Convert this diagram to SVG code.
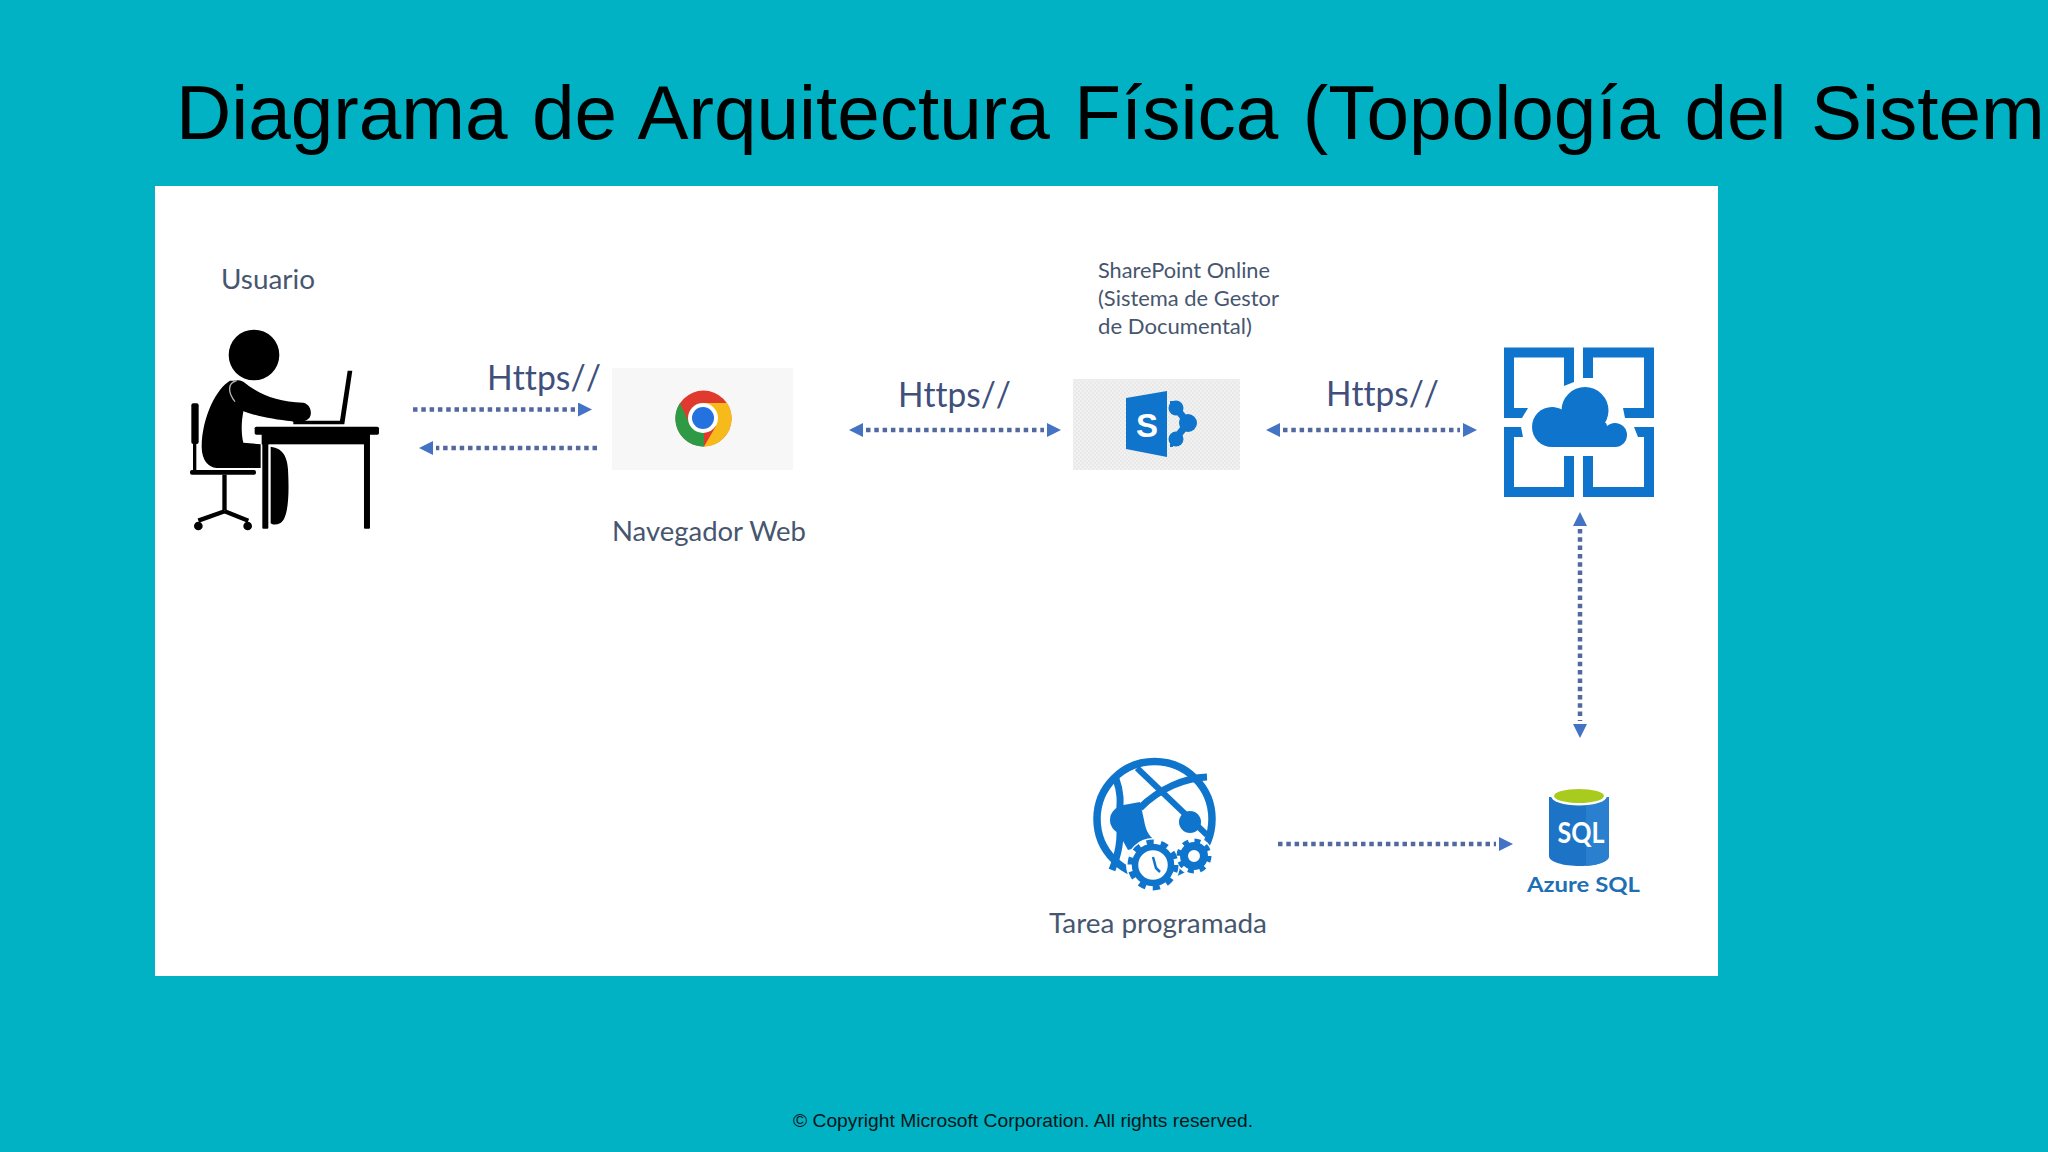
<svg xmlns="http://www.w3.org/2000/svg" width="2048" height="1152" viewBox="0 0 2048 1152">
<style>
.lb{font-family:"Lato","Liberation Sans",sans-serif;fill:#47566f}
.h{font-family:"Lato","Liberation Sans",sans-serif;font-size:34px;fill:#404f7c;font-variant-ligatures:none;font-kerning:none}
.c{fill:none;stroke:#52689f;stroke-width:4.500;stroke-dasharray:4.500 3.800}
.b{fill:#0f75cc}
.k{fill:#000}
</style>
<defs>
<marker id="ah" markerUnits="userSpaceOnUse" markerWidth="14" markerHeight="14" refX="-3" refY="7" orient="auto-start-reverse"><path d="M0,0 L14,7 L0,14 Z" fill="#4472c4"/></marker>
<pattern id="d" width="4" height="4" patternUnits="userSpaceOnUse"><rect width="4" height="4" fill="#f1f1f1"/><rect width="2" height="2" fill="#e9e9e9"/><rect x="2" y="2" width="2" height="2" fill="#e9e9e9"/></pattern>
</defs>
<rect width="2048" height="1152" fill="#00b2c3"/>
<text id="title" x="176" y="139" font-family="Liberation Sans,sans-serif" font-size="76.500" word-spacing="3.200" fill="#000">Diagrama de Arquitectura Física (Topología del Sistem</text>
<rect id="panel" x="155" y="186" width="1563" height="790" fill="#fff"/>

<g id="usuario">
<text class="lb" x="221" y="289" font-size="26" textLength="94" lengthAdjust="spacingAndGlyphs">Usuario</text>
<g transform="translate(180,310) scale(.3333)">
<ellipse class="k" cx="222" cy="135" rx="76" ry="76"/>
<path class="k" d="M150,212C110,235 66,320 65,410C65,450 85,472 110,474L242,474L242,403L190,398C183,370 184,335 190,305L170,212Z"/>
<path class="k" d="M148,235C148,212 170,205 190,215C240,255 290,275 370,278C392,283 398,310 388,324C375,337 350,340 335,334C270,328 190,310 165,290C152,270 148,250 148,235Z"/>
<path d="M165,275C145,250 140,220 170,212" fill="none" stroke="#b5b5b5" stroke-width="4"/>
<rect class="k" x="34" y="280" width="22" height="122" rx="6"/><rect class="k" x="39" y="400" width="10" height="85"/>
<rect class="k" x="30" y="480" width="198" height="14" rx="6"/><rect class="k" x="127" y="494" width="13" height="108"/>
<path d="M134,604L55,632M134,604L205,632" stroke="#000" stroke-width="13" fill="none"/>
<circle class="k" cx="55" cy="648" r="13"/><circle class="k" cx="203" cy="648" r="13"/>
<rect class="k" x="224" y="350" width="373" height="24" rx="5"/><rect class="k" x="245" y="372" width="325" height="31"/>
<rect class="k" x="247" y="400" width="18" height="256" rx="3"/><rect class="k" x="552" y="400" width="18" height="256" rx="3"/>
<path class="k" d="M272,410C310,415 325,440 325,500C328,580 320,630 300,640C290,645 278,645 272,640Z"/>
<path class="k" d="M503,182L517,182L493,343L340,343L340,332L480,332Z"/>
</g>
</g>

<g id="navegador">
<rect x="612" y="368" width="181" height="102" fill="#f7f7f7"/>
<circle cx="703.500" cy="418.500" r="28" fill="#df3a2d"/>
<path d="M680,403L691,427L704,433L704,446.500A28,28 0 0 1 680,403Z" fill="#2f9a45"/>
<path d="M703,403H727A28,28 0 0 1 704,446.500L716,426L703,418Z" fill="#f6bb1a"/>
<circle cx="703" cy="418" r="15" fill="#fff"/><circle cx="703" cy="418" r="11" fill="#2472e0"/>
<text class="lb" x="612" y="541" font-size="27" textLength="194" lengthAdjust="spacingAndGlyphs">Navegador Web</text>
</g>

<g id="sharepoint">
<rect x="1073" y="379" width="167" height="91" fill="url(#d)"/>
<path class="b" d="M1126,398L1167,391L1167,457L1126,449Z"/>
<path d="M1172,403L1188,423L1172,443" fill="none" stroke="#0f75cc" stroke-width="7"/>
<circle class="b" cx="1176" cy="408" r="7.500"/><circle class="b" cx="1188" cy="423" r="9"/><circle class="b" cx="1176" cy="439" r="7.500"/>
<rect class="b" x="1170" y="401" width="3" height="10"/><rect class="b" x="1170" y="436" width="3" height="11"/>
<text x="1147" y="437" text-anchor="middle" font-family="Liberation Sans,sans-serif" font-weight="700" font-size="33" fill="#fff">S</text>
<g class="lb" font-size="22">
<text x="1098" y="278" textLength="172" lengthAdjust="spacingAndGlyphs">SharePoint Online</text>
<text x="1098" y="306" textLength="181" lengthAdjust="spacingAndGlyphs">(Sistema de Gestor</text>
<text x="1098" y="334" textLength="154" lengthAdjust="spacingAndGlyphs">de Documental)</text>
</g>
</g>

<g id="app-service">
<path class="b" d="M1504,347.500H1574V382L1564,386V357.500H1514V408H1528L1522,418H1504Z"/>
<path class="b" d="M1654,347.500H1583V378H1593V357.500H1644V408H1623L1625,418H1654Z"/>
<path class="b" d="M1504,497H1574V456H1564V487H1514V437H1523L1521,427H1504Z"/>
<path class="b" d="M1654,497H1583V456H1593V487H1644V437H1638L1634,427H1654Z"/>
<circle class="b" cx="1585" cy="410.500" r="23.500"/><circle class="b" cx="1552" cy="427" r="20"/><circle class="b" cx="1615" cy="435" r="12"/>
<path class="b" d="M1552,407L1606,423L1615,447H1552Z"/>
</g>

<g id="tarea">
<g fill="none" stroke="#0f75cc">
<circle cx="1154.500" cy="819" r="57.500" stroke-width="7.500"/>
<path d="M1116,779C1122,795 1120,805 1119,820C1122,840 1118,855 1112,870" stroke-width="7"/>
<path d="M1137,768L1207,835" stroke-width="6"/>
<path d="M1140,808C1160,788 1185,778 1207,777" stroke-width="7"/>
</g>
<circle class="b" cx="1124" cy="820" r="14"/>
<path class="b" d="M1118,806L1140,802L1144,820C1146,832 1150,838 1158,842L1128,850L1118,832Z"/>
<circle class="b" cx="1190" cy="822" r="11"/>
<circle cx="1153" cy="865" r="27" fill="#fff"/><circle cx="1194" cy="856" r="19" fill="#fff"/>
<g transform="translate(1153,865)" fill="none" stroke="#0f75cc">
<circle r="18" stroke-width="6.500"/>
<circle r="22.500" stroke-width="6" stroke-dasharray="7.070 7.070"/>
<path d="M0,-8L3,3L7,7" stroke-width="2.500"/>
</g>
<g transform="translate(1194,856)" fill="none" stroke="#0f75cc">
<circle r="10" stroke-width="8"/>
<circle r="15" stroke-width="5" stroke-dasharray="5.890 5.890"/>
</g>
<text class="lb" x="1049" y="933" font-size="27" textLength="218" lengthAdjust="spacingAndGlyphs">Tarea programada</text>
</g>

<g id="azure-sql">
<path d="M1549,797V856C1549,862 1563,866 1580,866C1597,866 1609,862 1609,856V797Z" fill="#1d74c6"/>
<path d="M1586,802V866C1598,865 1609,861 1609,856V797Z" fill="#2a80cf"/>
<ellipse cx="1579" cy="796" rx="28" ry="9.500" fill="#fff"/>
<ellipse cx="1579" cy="796" rx="25" ry="7" fill="#a9cb1e"/>
<text x="1581" y="843" text-anchor="middle" font-family="Lato,Liberation Sans,sans-serif" font-weight="700" font-size="29" fill="#fff" textLength="47" lengthAdjust="spacingAndGlyphs">SQL</text>
<text x="1527" y="892" font-family="Lato,Liberation Sans,sans-serif" font-weight="700" font-size="21" fill="#1f6fb5" textLength="113" lengthAdjust="spacingAndGlyphs">Azure SQL</text>
</g>

<g id="connectors">
<path class="c" d="M413,409.500H575" marker-end="url(#ah)"/>
<path class="c" d="M597,448H436" marker-end="url(#ah)"/>
<path class="c" d="M866,430H1044" marker-start="url(#ah)" marker-end="url(#ah)"/>
<path class="c" d="M1283,430H1460" marker-start="url(#ah)" marker-end="url(#ah)"/>
<path class="c" d="M1580,529V721" marker-start="url(#ah)" marker-end="url(#ah)"/>
<path class="c" d="M1278,844H1496" marker-end="url(#ah)"/>
<text class="h" x="487" y="390" textLength="114" lengthAdjust="spacingAndGlyphs">Https//</text>
<text class="h" x="898" y="407" textLength="113" lengthAdjust="spacingAndGlyphs">Https//</text>
<text class="h" x="1326" y="406" textLength="113" lengthAdjust="spacingAndGlyphs">Https//</text>
</g>

<text id="footer" x="793" y="1127" font-family="Liberation Sans,sans-serif" font-size="19" fill="#06161a" textLength="460" lengthAdjust="spacingAndGlyphs">© Copyright Microsoft Corporation. All rights reserved.</text>
</svg>
